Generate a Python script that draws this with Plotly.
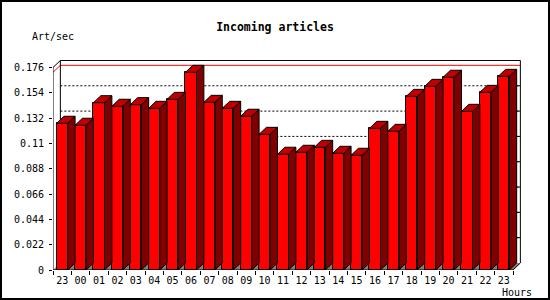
import plotly.graph_objects as go

hours = ["23", "00", "01", "02", "03", "04", "05", "06", "07", "08", "09", "10",
         "11", "12", "13", "14", "15", "16", "17", "18", "19", "20", "21", "22", "23"]
rates = [0.1275, 0.1258, 0.1454, 0.1423, 0.1437, 0.1405, 0.1483, 0.1718, 0.1457,
         0.1405, 0.1336, 0.1179, 0.1006, 0.1023, 0.1066, 0.1014, 0.0997, 0.1231,
         0.1205, 0.1509, 0.1596, 0.1675, 0.1379, 0.1544, 0.1683]
ytick_vals = [0, 0.022, 0.044, 0.066, 0.088, 0.11, 0.132, 0.154, 0.176]
ytick_text = ["0", "0.022", "0.044", "0.066", "0.088", "0.11", "0.132", "0.154", "0.176"]

FONT = "DejaVu Sans Mono"
n = len(rates)
xs = list(range(n))
bw = 0.6          # front face width (category units)
dx = 0.40         # depth offset in x units
dy = 0.0061       # depth offset in y units
ymax_axis = ytick_vals[-1]
x_lo, x_hi = -0.5, n - 0.5

# plot geometry
W, H = 550, 300
ml, mr, mt, mb = 53, 29, 60, 30
pw, ph = W - ml - mr, H - mt - mb

top_x, top_y, side_x, side_y = [], [], [], []
for i, v in zip(xs, rates):
    L, R = i - bw / 2, i + bw / 2
    top_x += [L, R, R + dx, L + dx, L, None]
    top_y += [v, v, v + dy, v + dy, v, None]
    side_x += [R, R + dx, R + dx, R, R, None]
    side_y += [0, dy, v + dy, v, 0, None]

fig = go.Figure()
fig.add_trace(go.Scatter(x=side_x, y=side_y, mode="lines", fill="toself",
                         fillcolor="#800000", line=dict(color="black", width=1),
                         hoverinfo="skip", showlegend=False))
fig.add_trace(go.Scatter(x=top_x, y=top_y, mode="lines", fill="toself",
                         fillcolor="#c00000", line=dict(color="black", width=1),
                         hoverinfo="skip", showlegend=False))
fig.add_trace(go.Bar(x=xs, y=rates, width=bw, marker=dict(color="#ff0000",
                     line=dict(color="black", width=1)), showlegend=False))

shapes = []
# floor
shapes.append(dict(type="path", layer="below", xref="x", yref="y",
                   path=f"M{x_lo},0 L{x_hi},0 L{x_hi+dx},{dy} L{x_lo+dx},{dy} Z",
                   fillcolor="#808080", line=dict(width=0)))
# back gridlines + right ticks
for t in ytick_vals[1:-1]:
    shapes.append(dict(type="line", layer="below", xref="x", yref="y",
                       x0=x_lo + dx, x1=x_hi + dx, y0=t + dy, y1=t + dy,
                       line=dict(color="black", width=1, dash="2px,2px")))
    shapes.append(dict(type="line", layer="below", xref="x", yref="y",
                       x0=x_hi + dx - 0.17, x1=x_hi + dx, y0=t + dy, y1=t + dy,
                       line=dict(color="black", width=1)))
# max line (red)
m = max(rates)
shapes.append(dict(type="path", layer="below", xref="x", yref="y",
                   path=f"M{x_lo},{m} L{x_lo+dx},{m+dy} L{x_hi+dx},{m+dy}",
                   line=dict(color="#ff0000", width=1)))
# back wall frame
shapes.append(dict(type="path", layer="below", xref="x", yref="y",
                   path=(f"M{x_lo+dx},{dy} L{x_lo+dx},{ymax_axis+dy} "
                         f"L{x_hi+dx},{ymax_axis+dy} L{x_hi+dx},{dy}"),
                   line=dict(color="black", width=1)))
shapes.append(dict(type="line", layer="below", xref="x", yref="y",
                   x0=x_lo, y0=ymax_axis, x1=x_lo + dx, y1=ymax_axis + dy,
                   line=dict(color="black", width=1)))
# front axes
shapes.append(dict(type="path", layer="above", xref="x", yref="y",
                   path=f"M{x_lo},{ymax_axis} L{x_lo},0 L{x_hi},0 L{x_hi+dx},{dy}",
                   line=dict(color="black", width=1)))
# outer border of image
shapes.append(dict(type="rect", xref="paper", yref="paper",
                   x0=(1 - ml) / pw, x1=(W - 1 - ml) / pw,
                   y0=-(mb - 1) / ph, y1=1 + (mt - 1) / ph,
                   line=dict(color="black", width=2)))

fig.update_layout(
    width=W, height=H, margin=dict(l=ml, r=mr, t=mt, b=mb, pad=0),
    paper_bgcolor="white", plot_bgcolor="white",
    shapes=shapes, bargap=0,
    title=dict(text="Incoming articles", x=0.5, xref="container", xanchor="center",
               y=1 - 27 / H, yref="container", yanchor="middle",
               font=dict(family=FONT, size=11.5, color="black", weight="bold")),
    xaxis=dict(range=[x_lo, x_lo + pw / 18.4], tickvals=xs, ticktext=hours,
               ticks="", showgrid=False, zeroline=False, showline=False,
               ticklabelstandoff=3,
               tickfont=dict(family=FONT, size=10, color="black"),
               minor=dict(tickvals=[i - 0.5 for i in range(n + 1)], ticks="outside",
                          ticklen=4, tickcolor="black", showgrid=False)),
    yaxis=dict(range=[0, ph / 1150.6], tickvals=ytick_vals, ticktext=ytick_text,
               ticks="outside", ticklen=3, tickcolor="black", showgrid=False,
               zeroline=False, showline=False, ticklabelstandoff=3,
               tickfont=dict(family=FONT, size=10, color="black")),
    annotations=[
        dict(text="Art/sec", xref="paper", yref="paper", x=(30 - ml) / pw,
             y=(H - mb - 37) / ph, xanchor="left", yanchor="middle", showarrow=False,
             font=dict(family=FONT, size=10, color="black")),
        dict(text="Hours", xref="paper", yref="paper", x=(534 - ml) / pw,
             y=(H - mb - 292) / ph, xanchor="right", yanchor="middle", showarrow=False,
             font=dict(family=FONT, size=10, color="black")),
    ],
)
fig.write_html("out.html")
